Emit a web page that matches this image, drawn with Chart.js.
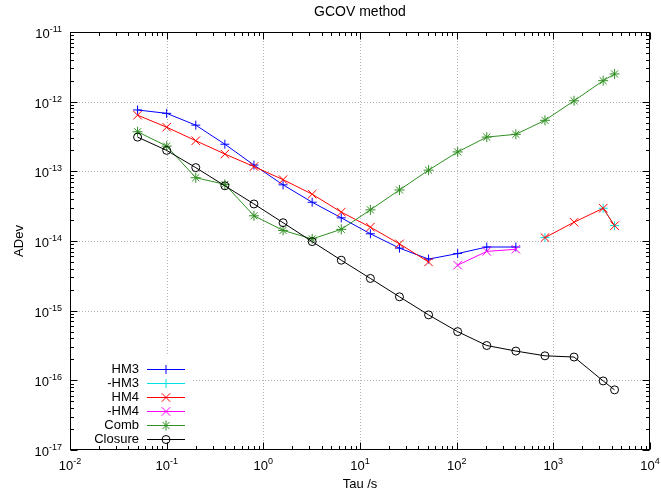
<!DOCTYPE html>
<html><head><meta charset="utf-8">
<script src="https://cdn.jsdelivr.net/npm/chart.js@4/dist/chart.umd.min.js"></script>
<style>html,body{margin:0;padding:0;background:#fff;}</style>
</head><body>
<canvas id="c" width="661" height="497"></canvas>
<script>
const tau = [0.05,0.1,0.2,0.4,0.8,1.6,3.2,6.4,12.8,25.6,51.2,102.4,204.8,409.6,819.2,1638.4,3276.8,4300];
const hm3 = [7.6e-13,6.8e-13,4.6e-13,2.45e-13,1.23e-13,6.4e-14,3.6e-14,2.15e-14,1.27e-14,7.9e-15,5.5e-15,6.6e-15,8.2e-15,8.2e-15,null,null,null,null];
const negHm3 = [null,null,null,null,null,null,null,null,null,null,null,null,null,null,1.12e-14,null,2.95e-14,1.66e-14];
const hm4 = [6.4e-13,4.3e-13,2.75e-13,1.77e-13,1.17e-13,7.6e-14,4.7e-14,2.6e-14,1.58e-14,9.1e-15,5.0e-15,null,null,null,1.12e-14,1.86e-14,2.95e-14,1.66e-14];
const negHm4 = [null,null,null,null,null,null,null,null,null,null,null,4.5e-15,7.1e-15,7.6e-15,null,null,null,null];
const comb = [3.7e-13,2.3e-13,8.1e-14,6.5e-14,2.3e-14,1.42e-14,1.07e-14,1.47e-14,2.8e-14,5.4e-14,1.04e-13,1.9e-13,3.1e-13,3.4e-13,5.4e-13,1.03e-12,2.0e-12,2.5e-12];
const closure = [3.1e-13,2.0e-13,1.13e-13,6.2e-14,3.4e-14,1.83e-14,9.8e-15,5.3e-15,2.9e-15,1.58e-15,8.7e-16,5.0e-16,3.16e-16,2.63e-16,2.25e-16,2.16e-16,9.8e-17,7.3e-17];

const seriesNames = ['HM3','-HM3','HM4','-HM4','Comb','Closure'];
const xTickValues = [1e-2,1e-1,1e0,1e1,1e2,1e3,1e4];
const xTickExponents = ['-2','-1','0','1','2','3','4'];
const yTickValues = [1e-17,1e-16,1e-15,1e-14,1e-13,1e-12,1e-11];
const yTickExponents = ['-17','-16','-15','-14','-13','-12','-11'];

const FONT = '"Liberation Sans", Arial, sans-serif';
const styles = [
  {color:'#0000ff', style:'cross', r:4.5},
  {color:'#00e0e0', style:'cross', r:4.5},
  {color:'#ff0000', style:'crossRot', r:6},
  {color:'#ff00ff', style:'crossRot', r:6},
  {color:'#2f8f22', style:'star', r:5},
  {color:'#000000', style:'circle', r:4}
];
const seriesData = [hm3, negHm3, hm4, negHm4, comb, closure];

const datasets = seriesData.map((arr,i)=>({
  label: seriesNames[i],
  data: tau.map((t,j)=>({x:t, y:arr[j]})),
  borderColor: styles[i].color,
  backgroundColor: 'rgba(0,0,0,0)',
  pointBorderColor: styles[i].color,
  pointBackgroundColor: 'rgba(0,0,0,0)',
  pointStyle: styles[i].style,
  pointRadius: styles[i].r,
  pointBorderWidth: 1,
  borderWidth: 1,
  tension: 0,
  spanGaps: false,
  order: 10 - i
}));

function minors(lo, hi){ const out=[]; for(let e=lo;e<hi;e++){ for(let k=2;k<=9;k++) out.push(k*Math.pow(10,e)); } return out; }

function powLabel(ctx, exp, x, y, mode){
  ctx.font='13px '+FONT;
  const w1=ctx.measureText('10').width;
  ctx.font='9px '+FONT;
  const w2=ctx.measureText(exp).width;
  let sx;
  if(mode==='center') sx = x - (w1+w2)/2; else sx = x - (w1+w2);
  ctx.textAlign='left'; ctx.textBaseline='alphabetic';
  ctx.font='13px '+FONT; ctx.fillText('10', sx, y);
  ctx.font='9px '+FONT; ctx.fillText(exp, sx+w1, y-6);
}

const frame = {
  id:'frame',
  beforeDatasetsDraw(chart){
    const {ctx, chartArea:a, scales:{x,y}} = chart;
    ctx.save();
    ctx.strokeStyle='#b4b4b4'; ctx.lineWidth=1; ctx.setLineDash([1,2]);
    xTickValues.slice(1,-1).forEach(v=>{ const p=Math.round(x.getPixelForValue(v))+0.5; ctx.beginPath(); ctx.moveTo(p,a.top); ctx.lineTo(p,a.bottom); ctx.stroke(); });
    yTickValues.slice(1,-1).forEach(v=>{ const p=Math.round(y.getPixelForValue(v))+0.5; ctx.beginPath(); ctx.moveTo(a.left,p); ctx.lineTo(a.right,p); ctx.stroke(); });
    ctx.setLineDash([]);
    ctx.fillStyle='#fff';
    ctx.fillRect(a.left+1, a.bottom-95, 122, 94);
    ctx.restore();
  },
  afterDatasetsDraw(chart){
    const {ctx, chartArea:a, scales:{x,y}} = chart;
    ctx.save();
    ctx.strokeStyle='#000'; ctx.lineWidth=1;
    const L=Math.round(a.left)+0.5, R=Math.round(a.right)-0.5, T=Math.round(a.top)+0.5, B=Math.round(a.bottom)-0.5;
    ctx.strokeRect(L,T,R-L,B-T);
    ctx.beginPath();
    const tick=(p,len,horiz)=>{
      if(horiz){ ctx.moveTo(p,B); ctx.lineTo(p,B-len); ctx.moveTo(p,T); ctx.lineTo(p,T+len); }
      else { ctx.moveTo(L,p); ctx.lineTo(L+len,p); ctx.moveTo(R,p); ctx.lineTo(R-len,p); }
    };
    xTickValues.forEach(v=>tick(Math.round(x.getPixelForValue(v))+0.5,7,true));
    minors(-2,4).forEach(v=>tick(Math.round(x.getPixelForValue(v))+0.5,3.5,true));
    yTickValues.forEach(v=>tick(Math.round(y.getPixelForValue(v))+0.5,7,false));
    minors(-17,-11).forEach(v=>tick(Math.round(y.getPixelForValue(v))+0.5,3.5,false));
    ctx.stroke();

    // tick labels
    ctx.fillStyle='#000';
    xTickValues.forEach((v,i)=>powLabel(ctx, xTickExponents[i], x.getPixelForValue(v), a.bottom+20, 'center'));
    yTickValues.forEach((v,i)=>powLabel(ctx, yTickExponents[i], a.left-8, y.getPixelForValue(v)+6, 'right'));

    // title
    ctx.fillStyle='#000'; ctx.font='14px '+FONT; ctx.textAlign='center'; ctx.textBaseline='middle';
    ctx.fillText('GCOV method', (a.left+a.right)/2, 12);

    // legend
    ctx.font='13px '+FONT; ctx.textAlign='right'; ctx.textBaseline='middle';
    seriesNames.forEach((name,i)=>{
      const yy = a.bottom - 81 + i*14;
      ctx.fillStyle='#000';
      ctx.fillText(name, a.left+69, yy);
      ctx.strokeStyle=styles[i].color; ctx.lineWidth=1;
      ctx.beginPath(); ctx.moveTo(a.left+77, yy+0.5); ctx.lineTo(a.left+115, yy+0.5); ctx.stroke();
      ctx.fillStyle='rgba(0,0,0,0)';
      Chart.helpers.drawPoint(ctx, {pointStyle:styles[i].style, radius:styles[i].r, rotation:0, borderWidth:1}, a.left+96, yy+0.5);
    });
    ctx.restore();
  }
};

new Chart(document.getElementById('c'), {
  type:'line',
  data:{datasets},
  plugins:[frame],
  options:{
    responsive:false, animation:false, devicePixelRatio:1,
    layout:{padding:{left:0,right:11,top:32,bottom:0}},
    plugins:{legend:{display:false}, title:{display:false}, tooltip:{enabled:false}},
    scales:{
      x:{
        type:'logarithmic', min:1e-2, max:1e4, position:'bottom',
        afterBuildTicks: s=>{ s.ticks = xTickValues.map(v=>({value:v})); },
        afterFit: s=>{ s.height = 47; },
        grid:{display:false}, border:{display:false},
        ticks:{display:false},
        title:{display:true, text:'Tau /s', color:'#000', font:{family:FONT,size:13}, padding:{top:0,bottom:5}}
      },
      y:{
        type:'logarithmic', min:1e-17, max:1e-11, position:'left',
        afterBuildTicks: s=>{ s.ticks = yTickValues.map(v=>({value:v})); },
        afterFit: s=>{ s.width = 70; },
        grid:{display:false}, border:{display:false},
        ticks:{display:false},
        title:{display:true, text:'ADev', color:'#000', font:{family:FONT,size:13}, padding:{top:12,bottom:0}}
      }
    }
  }
});
</script>
</body></html>
